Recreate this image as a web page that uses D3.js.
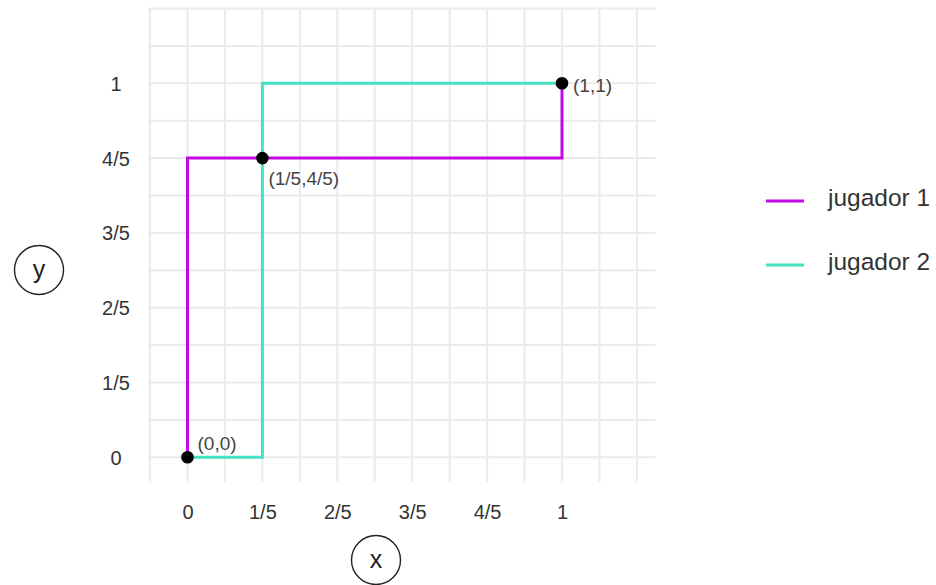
<!DOCTYPE html>
<html><head><meta charset="utf-8">
<script src="https://cdn.jsdelivr.net/npm/d3@7/dist/d3.min.js"></script>
<style>body{margin:0;background:#fff;}svg{display:block;font-family:"Liberation Sans",Arial,sans-serif;}</style>
</head><body><svg id="c" width="936" height="585"></svg>
<script>
const tickValues = [0, 0.2, 0.4, 0.6, 0.8, 1];
const tickLabels = ["0", "1/5", "2/5", "3/5", "4/5", "1"];
const gridX = [-0.1,0,0.1,0.2,0.3,0.4,0.5,0.6,0.7,0.8,0.9,1,1.1,1.2];
const gridY = [0,0.1,0.2,0.3,0.4,0.5,0.6,0.7,0.8,0.9,1,1.1,1.2];
const seriesNames = ["jugador 1", "jugador 2"];
const seriesColors = ["#c30ae6", "#45e3c3"];
const jugador1 = [[0,0],[0,0.8],[1,0.8],[1,1]];
const jugador2 = [[0,0],[0.2,0],[0.2,1],[1,1]];
const points = [[0,0],[0.2,0.8],[1,1]];
const pointLabels = ["(0,0)", "(1/5,4/5)", "(1,1)"];

const svg = d3.select("#c");
const x = d3.scaleLinear().domain([0,1]).range([187.5,562]);
const y = d3.scaleLinear().domain([0,1]).range([457.3,83.3]);

const g = svg.append("g");
// grid
g.selectAll(".vx").data(gridX).join("line")
  .attr("x1",d=>x(d)).attr("x2",d=>x(d)).attr("y1",y(1.2)).attr("y2",y(-0.065))
  .attr("stroke","#ebebeb").attr("stroke-width",2);
g.selectAll(".hy").data(gridY).join("line")
  .attr("y1",d=>y(d)).attr("y2",d=>y(d)).attr("x1",x(-0.105)).attr("x2",x(1.25))
  .attr("stroke","#ebebeb").attr("stroke-width",2);

// axes labels via d3 axes (no domain/ticks lines)
const xAxis = d3.axisBottom(x).tickValues(tickValues).tickFormat((d,i)=>tickLabels[i]).tickSize(0).tickPadding(0);
const ax = svg.append("g").attr("transform","translate(0,519)").call(xAxis);
const yAxis = d3.axisLeft(y).tickValues(tickValues).tickFormat((d,i)=>tickLabels[i]).tickSize(0).tickPadding(0);
const ay = svg.append("g").attr("transform","translate(116,0)").call(yAxis);
[ax,ay].forEach(a=>{a.select(".domain").remove();
  a.selectAll("text").attr("font-family","Liberation Sans, Arial, sans-serif").attr("font-size",20).attr("fill","#333");});
ax.selectAll("text").attr("dy","0");
ay.selectAll("text").attr("text-anchor","middle").attr("dy","0.35em");

// lines
const line = d3.line().x(d=>x(d[0])).y(d=>y(d[1]));
[jugador2, jugador1].forEach((s,i)=>{
  const idx = i===0?1:0;
  svg.append("path").attr("d",line(s)).attr("fill","none")
    .attr("stroke",seriesColors[idx]).attr("stroke-width",3);
});
// points
svg.selectAll(".pt").data(points).join("circle")
  .attr("cx",d=>x(d[0])).attr("cy",d=>y(d[1])).attr("r",6.3).attr("fill","#000");
const offs = [[10,-7],[6,27],[11,9]];
svg.selectAll(".pl").data(points).join("text")
  .attr("x",(d,i)=>x(d[0])+offs[i][0]).attr("y",(d,i)=>y(d[1])+offs[i][1])
  .attr("font-size",19).attr("fill","#444").text((d,i)=>pointLabels[i]);

// axis name circles
[["y",39,270],["x",376,560]].forEach(([t,cx,cy])=>{
  svg.append("circle").attr("cx",cx).attr("cy",cy).attr("r",24.5).attr("fill","none").attr("stroke","#222").attr("stroke-width",1.4);
  svg.append("text").attr("x",cx).attr("y",cy).attr("dy","0.3em").attr("text-anchor","middle")
    .attr("font-size",25).attr("fill","#222").text(t);
});

// legend
const leg = svg.append("g");
seriesNames.forEach((n,i)=>{
  const ly = 201 + i*64;
  leg.append("line").attr("x1",766).attr("x2",804).attr("y1",ly).attr("y2",ly)
    .attr("stroke",seriesColors[i]).attr("stroke-width",3);
  leg.append("text").attr("x",828).attr("y",ly+5).attr("font-size",24.5).attr("fill","#333").text(n);
});
</script></body></html>
